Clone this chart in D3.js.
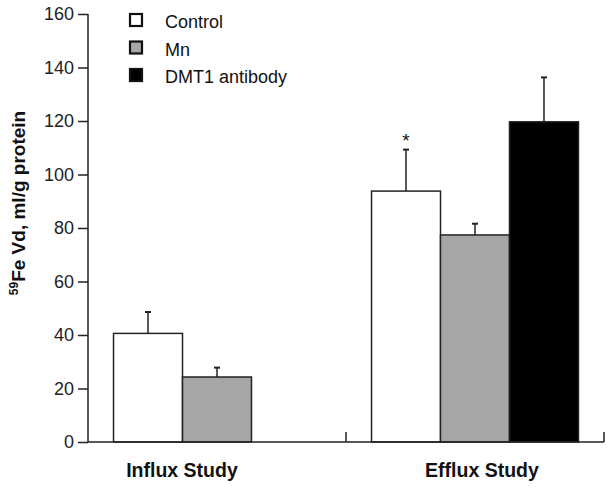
<!DOCTYPE html>
<html><head><meta charset="utf-8">
<script src="https://cdn.jsdelivr.net/npm/d3@7"></script>
<style>body{margin:0;background:#fff}svg{display:block}text{font-family:"Liberation Sans",Arial,Helvetica,sans-serif}</style>
</head><body>
<svg id="c" width="612" height="488"></svg>
<script>
const groups = ["Influx Study", "Efflux Study"];
const seriesNames = ["Control", "Mn", "DMT1 antibody"];
const seriesColors = ["#ffffff", "#a6a6a6", "#000000"];
const influxValues = [40.6, 24.3, null];
const influxErrors = [8.0, 3.5, null];
const effluxValues = [93.8, 77.4, 119.7];
const effluxErrors = [15.5, 4.2, 16.6];
const yTicks = [0, 20, 40, 60, 80, 100, 120, 140, 160];
const significance = [["Efflux Study", "Control", "*"]];

const valuesByGroup = {"Influx Study": influxValues, "Efflux Study": effluxValues};
const errorsByGroup = {"Influx Study": influxErrors, "Efflux Study": effluxErrors};

const svg = d3.select("#c");
const mLeft = 88, mRight = 604, mTop = 14, mBottom = 442;

const y = d3.scaleLinear().domain([0, 160]).range([mBottom, mTop]);
const x0 = d3.scaleBand().domain(groups).range([mLeft, mRight]).padding(0);
const x1 = d3.scaleBand().domain(seriesNames).range([0, x0.bandwidth()]).paddingInner(0).paddingOuter(0.37);

const stroke = "#222";

const data = [];
groups.forEach(g => seriesNames.forEach((s, i) => {
  const v = valuesByGroup[g][i];
  if (v != null) data.push({g, s, i, v, e: errorsByGroup[g][i]});
}));

const eb = svg.append("g");
data.forEach(d => {
  const cx = x0(d.g) + x1(d.s) + x1.bandwidth() / 2;
  eb.append("line").attr("x1", cx).attr("x2", cx).attr("y1", y(d.v)).attr("y2", y(d.v + d.e))
    .attr("stroke", stroke).attr("stroke-width", 1.5);
  eb.append("line").attr("x1", cx - 3).attr("x2", cx + 3).attr("y1", y(d.v + d.e)).attr("y2", y(d.v + d.e))
    .attr("stroke", stroke).attr("stroke-width", 2);
});

svg.append("g").selectAll("rect").data(data).join("rect")
  .attr("x", d => x0(d.g) + x1(d.s))
  .attr("y", d => y(d.v))
  .attr("width", x1.bandwidth())
  .attr("height", d => y(0) - y(d.v))
  .attr("fill", d => seriesColors[d.i])
  .attr("stroke", stroke).attr("stroke-width", 1.5);

significance.forEach(([g, s, t]) => {
  const i = seriesNames.indexOf(s);
  const v = valuesByGroup[g][i] + errorsByGroup[g][i];
  svg.append("text").attr("x", x0(g) + x1(s) + x1.bandwidth() / 2).attr("y", y(v) - 3)
    .attr("text-anchor", "middle").attr("font-size", 19).attr("fill", "#111").text(t);
});

const yAxis = svg.append("g").attr("transform", `translate(${mLeft},0)`)
  .call(d3.axisLeft(y).tickValues(yTicks).tickSize(10).tickPadding(4));
yAxis.select(".domain").attr("stroke", stroke).attr("stroke-width", 1.5).attr("d", `M0,${mTop}V${mBottom}`);
yAxis.selectAll(".tick line").attr("stroke", stroke).attr("stroke-width", 1.5);
yAxis.selectAll(".tick text").attr("font-size", 18).attr("fill", "#222")
  .attr("font-family", "'Liberation Sans',Arial,sans-serif");

const xAxis = svg.append("g").attr("transform", `translate(0,${mBottom})`);
xAxis.append("line").attr("x1", mLeft).attr("x2", mRight).attr("stroke", stroke).attr("stroke-width", 1.5);
[x0.range()[0] + x0.bandwidth(), mRight].forEach(px => {
  xAxis.append("line").attr("x1", px).attr("x2", px).attr("y1", 0).attr("y2", -10)
    .attr("stroke", stroke).attr("stroke-width", 1.5);
});
const labelOffset = {"Influx Study": -35, "Efflux Study": 7};
groups.forEach(g => {
  xAxis.append("text").attr("x", x0(g) + x0.bandwidth() / 2 + labelOffset[g]).attr("y", 35)
    .attr("text-anchor", "middle").attr("font-size", 19.5).attr("font-weight", "bold").attr("fill", "#111").text(g);
});

const yl = svg.append("text").attr("transform", `translate(25,203) rotate(-90)`)
  .attr("text-anchor", "middle").attr("font-size", 19).attr("font-weight", "bold").attr("fill", "#111");
yl.append("tspan").attr("font-size", 12).attr("dy", -7).text("59");
yl.append("tspan").attr("dy", 7).text("Fe Vd, ml/g protein");

const lg = svg.append("g").attr("transform", "translate(129,13)");
seriesNames.forEach((s, i) => {
  const row = lg.append("g").attr("transform", `translate(0,${i * 27.5})`);
  row.append("rect").attr("x", 1).attr("y", 1).attr("width", 12).attr("height", 12)
    .attr("fill", seriesColors[i]).attr("stroke", "#111").attr("stroke-width", 2.2);
  row.append("text").attr("x", 36).attr("y", 15).attr("font-size", 18).attr("fill", "#111").text(s);
});
</script>
</body></html>
